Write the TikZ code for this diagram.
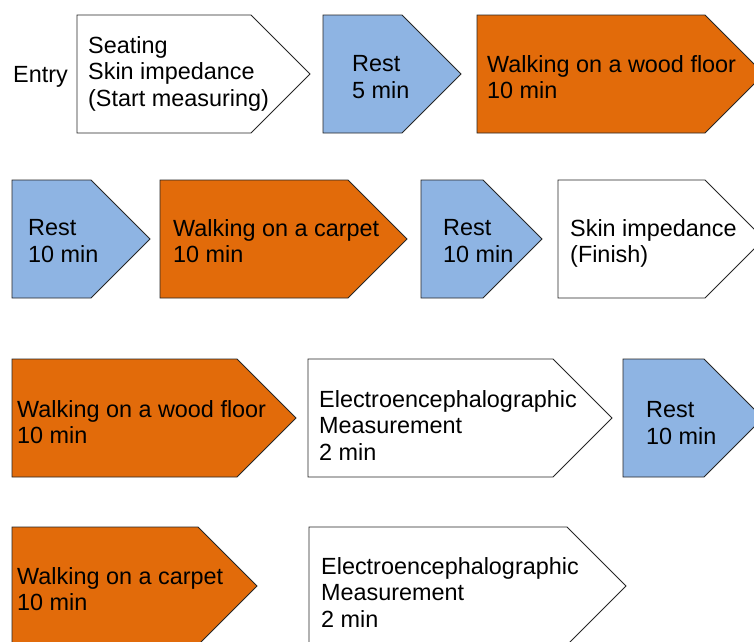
\documentclass[tikz,border=0pt]{standalone}
\usepackage{fontspec}
\setmainfont{Liberation Sans}
\usepackage{xcolor}
\definecolor{walkorange}{RGB}{226,107,10}
\definecolor{restblue}{RGB}{142,180,227}
\tikzset{
  stagebox/.style={draw=black!85,line width=0.9pt,line join=miter},
  stagetext/.style={anchor=north west,inner sep=0pt,align=left},
}
% fill, left edge, top edge, start of the point
\newcommand{\stagearrow}[4]{%
  \draw[stagebox,fill=#1] (#2,#3) -- (#4,#3) -- (#4+59,#3+59) -- (#4,#3+118) -- (#2,#3+118) -- cycle;}

\begin{document}
\begin{tikzpicture}[x=1pt,y=-1pt,font=\fontsize{23.4}{26.8}\selectfont]
\useasboundingbox (0,0) rectangle (754,641);
\clip (0,0) rectangle (754,641);
% first row
\node[anchor=base west,inner sep=0pt] (entry) at (13,82) {Entry};
\stagearrow{white}{77}{15}{251}
\node[stagetext] (seat) at (88,36) {Seating\\Skin impedance\\(Start measuring)};
\stagearrow{restblue}{323}{15}{402}
\node[stagetext] (rest1) at (352,55) {Rest\\5 min};
\stagearrow{walkorange}{477}{15}{705}
\node[stagetext] (wood1) at (487,55) {Walking on a wood floor\\10 min};
% second row
\stagearrow{restblue}{12}{180}{91}
\node[stagetext] (rest2) at (28,219) {Rest\\10 min};
\stagearrow{walkorange}{160}{180}{348}
\node[stagetext] (carpet1) at (173,219) {Walking on a carpet\\10 min};
\stagearrow{restblue}{421}{180}{483}
\node[stagetext] (rest3) at (443,219) {Rest\\10 min};
\stagearrow{white}{558}{180}{705}
\node[stagetext] (finish) at (570,219) {Skin impedance\\(Finish)};
% third row
\stagearrow{walkorange}{12}{359}{237}
\node[stagetext] (wood2) at (17,400) {Walking on a wood floor\\10 min};
\stagearrow{white}{308}{359}{553}
\node[stagetext] (eeg1) at (319,390) {Electroencephalographic\\Measurement\\2 min};
\stagearrow{restblue}{623}{359}{704}
\node[stagetext] (rest4) at (646,401) {Rest\\10 min};
% fourth row
\stagearrow{walkorange}{12}{527}{198}
\node[stagetext] (carpet2) at (17,567) {Walking on a carpet\\10 min};
\stagearrow{white}{309}{527}{567}
\node[stagetext] (eeg2) at (321,557) {Electroencephalographic\\Measurement\\2 min};
\end{tikzpicture}
\end{document}
